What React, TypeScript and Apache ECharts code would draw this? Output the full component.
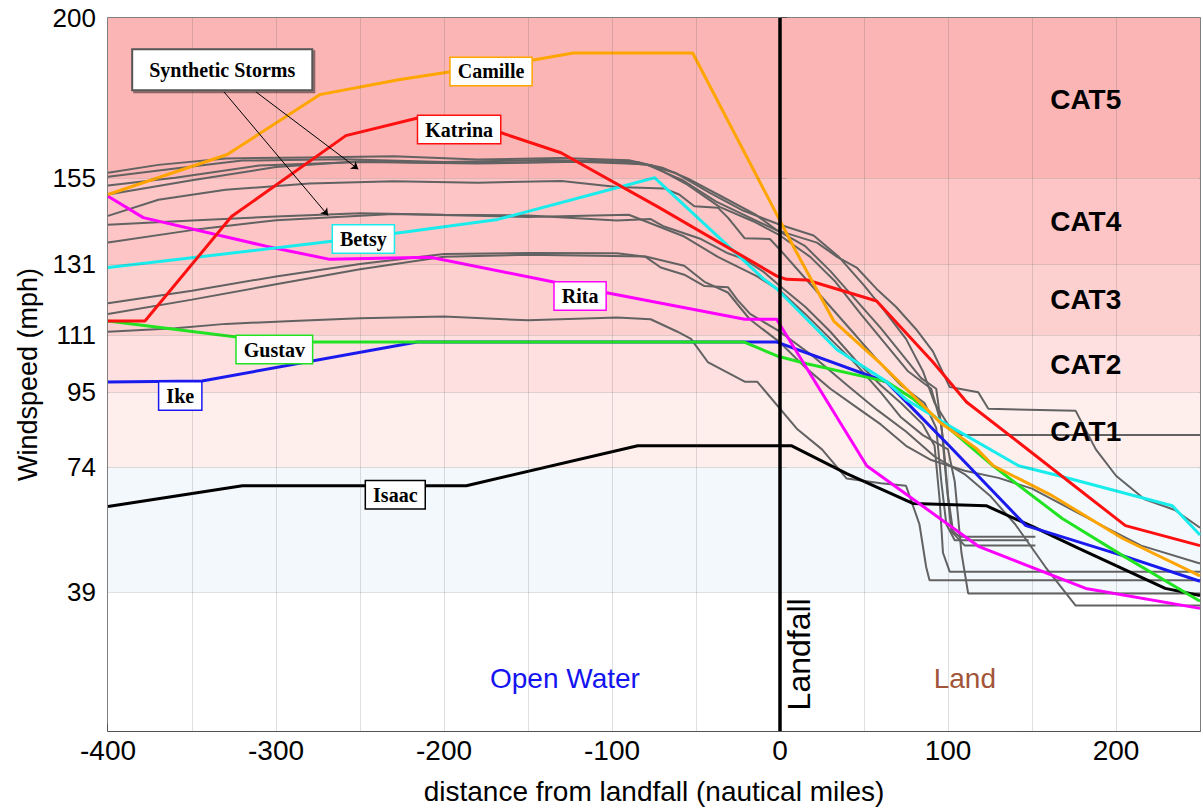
import React, { useEffect, useRef } from "react";
import * as echarts from "echarts";

// ---- axis ticks ----
const yTickValues = [39, 74, 95, 111, 131, 155, 200];
const xTickValues = [-400, -300, -200, -100, 0, 100, 200];
const xGridValues = [-350, -300, -250, -200, -150, -100, -50, 50, 100, 150, 200];

// ---- Saffir-Simpson bands ----
const bandLow = [0, 39, 74, 95, 111, 131, 155];
const bandHigh = [39, 74, 95, 111, 131, 155, 200];
const bandColors = ["#ffffff", "#f3f8fd", "#feeeec", "#fee0e0", "#fdd0d0", "#fdc5c5", "#fcb5b5"];
const catNames = ["CAT1", "CAT2", "CAT3", "CAT4", "CAT5"];
const catY = [84, 102.7, 121, 143, 177];

// ---- historical storms [distance, windspeed] ----
const camille = [[-400, 150.5], [-329, 161.7], [-274, 178.5], [-227, 182.7], [-196, 184.9], [-146, 188.3], [-123, 190.2], [-52, 190.2], [9, 135], [32, 115], [59, 103.5], [95, 86.7], [117, 79.2], [127, 74.4], [162, 66], [204, 54], [250, 43.5]];
const katrina = [[-400, 115], [-378, 115], [-326.5, 144.3], [-258.4, 167], [-215, 172], [-166, 167.8], [-130.4, 162.2], [-72.9, 147.1], [-1.8, 127.6], [4, 126.7], [16, 126.5], [57.5, 120.6], [91, 103.5], [111, 92.3], [144.6, 80], [205.6, 57.6], [250, 52]];
const betsy = [[-400, 130], [-273, 137], [-223, 140], [-168, 143.5], [-74.7, 155.2], [-9.5, 126.7], [-1.8, 124], [33.8, 107], [63.4, 98], [75, 93], [100.7, 85.6], [142, 74.4], [166, 71.6], [233.5, 63.2], [250, 55]];
const rita = [[-400, 150], [-379, 144], [-306, 136], [-268, 132.3], [-208, 132.9], [-134, 125.9], [-104, 123], [-21, 115.5], [-2, 115.5], [51.6, 74.4], [118.5, 51.7], [182, 40], [250, 34.4]];
const gustav = [[-400, 115], [-323.6, 110.5], [-278.5, 109.1], [-21.3, 109.1], [-1.8, 105.2], [16, 103], [63.4, 98], [79.4, 93.1], [100.7, 84.8], [126.8, 74.4], [168, 59.6], [204, 49.2], [250, 36.4]];
const ike = [[-400, 97.9], [-344, 98.2], [-216, 109.1], [-1.8, 109.1], [63.4, 97.9], [73.5, 93.1], [100.7, 80], [146.4, 57.6], [204, 49.2], [250, 42]];
const isaac = [[-400, 63], [-320, 68.8], [-186.7, 68.8], [-84.7, 80], [7, 80], [39.7, 72.2], [79.4, 63.8], [122.7, 63.2], [150.5, 57.3], [177.8, 51.2], [229.3, 40], [250, 38]];

// ---- synthetic storms ----
const syn1 = [[-400, 156.6], [-370, 158.8], [-330, 160.6], [-280, 160.9], [-230, 161.2], [-180, 160.3], [-130, 160.7], [-90, 160.1], [-70, 158], [-55, 155], [-35, 150], [-15, 145], [-2, 140.5], [22, 137], [34, 133], [45.6, 130], [57.5, 124], [69, 119], [81, 112.7], [91, 106.5], [101, 96.5], [118, 95], [124, 90.4], [176, 89.8], [188, 79], [200, 71.6], [217, 65], [235, 62], [250, 57]];
const syn2 = [[-400, 155.5], [-360, 157.8], [-320, 160], [-260, 160.4], [-200, 159.6], [-140, 160.2], [-85, 159.6], [-62, 156.5], [-42, 151], [-22, 146], [0, 142], [20, 139], [35, 133], [50, 125], [62, 118], [75, 110], [85, 101], [92, 92], [100, 86], [108, 83], [250, 83]];
const syn3 = [[-400, 153], [-360, 155.2], [-310, 158.6], [-250, 159.6], [-180, 159.2], [-120, 159.7], [-80, 159], [-58, 154.5], [-38, 148.5], [-18, 144], [0, 140], [15, 136], [30, 129], [45, 121], [60, 113], [72, 106], [84, 99], [93, 96], [97, 82], [100, 66], [103, 56], [107, 54.5], [152, 54.5]];
const syn4 = [[-400, 150.5], [-350, 154.5], [-300, 158.2], [-250, 159.8], [-200, 159.3], [-100, 159.8], [-76, 158.6], [-56, 153.5], [-36, 147], [-16, 143], [0, 139], [18, 133], [33, 126], [48, 117], [62, 109], [76, 101], [90, 96], [96, 86], [99, 70], [102, 56], [110, 52], [152, 52]];
const syn5 = [[-400, 144.5], [-370, 149], [-330, 151.8], [-280, 153.6], [-230, 154.2], [-180, 153.8], [-130, 154.3], [-97, 152.6], [-69, 152.2], [-60, 150.5], [-51, 147.2], [-37, 146.8], [-31, 144], [-21, 138.2], [-6, 138], [0, 135], [15, 127], [30, 119], [45, 111], [58, 104], [72, 97], [86, 92], [93, 85], [96, 70], [99, 58], [104, 53.5], [148, 53.5]];
const syn6 = [[-400, 142], [-350, 143.2], [-300, 144.3], [-250, 145.2], [-200, 144.8], [-150, 144.6], [-97, 143.2], [-77, 143.6], [-69, 141.5], [-47, 138], [-31, 134], [-21, 132.3], [-9.5, 128.7], [0, 124.8], [15, 119], [30, 112], [45, 104], [60, 97], [72, 92], [85, 86], [92, 80], [95, 65], [97, 50], [101, 44.7], [250, 44.7]];
const syn7 = [[-400, 137], [-350, 140.5], [-300, 143.3], [-230, 145], [-150, 144.2], [-90, 144.8], [-57, 138.7], [-37, 133], [-13.6, 127.5], [0, 123.5], [15, 117], [30, 110], [45, 103], [60, 95], [72, 88], [85, 83], [100, 79], [104, 70], [108, 50], [112, 38.6], [250, 38.6]];
const syn8 = [[-400, 120], [-350, 123.5], [-300, 127.5], [-250, 131], [-200, 133.8], [-150, 134.1], [-97, 134], [-80, 133], [-71, 130], [-57, 128], [-45, 124.8], [-31, 124.5], [-25.5, 121], [-17.8, 117], [0, 112], [20, 105], [40, 97], [58, 90], [75, 84], [92, 77], [110, 72], [125, 66], [140, 58], [158, 46], [176, 35.2], [250, 35.2]];
const syn9 = [[-400, 117], [-350, 121], [-300, 125.3], [-250, 129.5], [-200, 133], [-150, 133.6], [-80, 133.1], [-57, 130.5], [-45, 126], [-31, 123], [-18, 115.5], [0, 109], [15, 102], [30, 96], [45, 91], [60, 86], [75, 80], [90, 76], [110, 73], [130, 71], [150, 68], [170, 63], [190, 58], [215, 52], [250, 47]];
const syn10 = [[-400, 112], [-360, 113], [-330, 114.2], [-290, 115], [-250, 115.8], [-200, 116.3], [-150, 115.2], [-97, 116], [-77, 115.5], [-61, 112], [-53, 110], [-43, 103.5], [-21, 98], [-13.6, 98], [10, 84.8], [25, 79], [39.7, 70.8], [60, 69.5], [75, 68.8], [83, 58], [87, 46], [89, 42.3], [250, 42.3]];
const synthetic = [syn1, syn2, syn3, syn4, syn5, syn6, syn7, syn8, syn9, syn10];

// ---- storm name labels ----
const stormNames = ["Isaac", "Ike", "Gustav", "Rita", "Betsy", "Katrina", "Camille"];
const stormData = [isaac, ike, gustav, rita, betsy, katrina, camille];
const stormColors = ["#000000", "#1a1aee", "#22e322", "#ff00ff", "#19ecec", "#ff1010", "#ffa500"];
const stormLabelX = [-229, -357, -301, -119, -248, -191, -172];
const stormLabelY = [66.3, 94, 107, 122, 138, 168.7, 185];

const SANS = "'Liberation Sans', Arial, sans-serif";
const SERIF = "'Liberation Serif', 'Times New Roman', serif";

function buildOption() {
  const series: any[] = [];
  series.push({
    type: "line",
    data: [],
    z: 1,
    silent: true,
    markArea: {
      silent: true,
      data: bandLow.map((lo, i) => [
        { yAxis: lo, itemStyle: { color: bandColors[i] } },
        { yAxis: bandHigh[i] },
      ]),
    },
  });
  series.push({
    type: "line",
    data: [],
    z: 2,
    silent: true,
    markLine: {
      silent: true,
      symbol: ["none", "none"],
      label: { show: false },
      lineStyle: { color: "rgba(80,80,80,0.18)", width: 1, type: "solid" },
      data: [
        ...xGridValues.map((v) => ({ xAxis: v })),
        ...yTickValues.filter((v) => v < 200).map((v) => ({ yAxis: v })),
      ],
    },
  });
  synthetic.forEach((d) => {
    series.push({
      type: "line",
      data: d,
      showSymbol: false,
      silent: true,
      z: 3,
      lineStyle: { color: "#626262", width: 2 },
    });
  });
  stormData.forEach((d, i) => {
    series.push({
      type: "line",
      name: stormNames[i],
      data: d,
      showSymbol: false,
      silent: true,
      z: 4,
      lineStyle: { color: stormColors[i], width: 3 },
      markPoint: {
        silent: true,
        symbol: "circle",
        symbolSize: 1,
        itemStyle: { color: "rgba(0,0,0,0)" },
        data: [
          {
            coord: [stormLabelX[i], stormLabelY[i]],
            label: {
              show: true,
              position: "inside",
              formatter: stormNames[i],
              backgroundColor: "#ffffff",
              borderColor: stormColors[i],
              borderWidth: 1.5,
              padding: [4, 7, 3, 7],
              fontFamily: SERIF,
              fontWeight: "bold",
              fontSize: 20,
              color: "#000",
            },
          },
        ],
      },
    });
  });
  // landfall line, arrows, and text annotations
  series.push({
    type: "line",
    data: [],
    z: 5,
    silent: true,
    markLine: {
      silent: true,
      symbol: ["none", "none"],
      label: { show: false },
      data: [
        { xAxis: 0, lineStyle: { color: "#000", width: 3.5, type: "solid" } },
        [
          { coord: [-331, 179.3], symbol: "none" },
          { coord: [-269, 144.6], symbol: "arrow", symbolSize: 7 },
        ],
        [
          { coord: [-312, 179.3], symbol: "none" },
          { coord: [-251, 157.6], symbol: "arrow", symbolSize: 7 },
        ],
      ].map((d: any) =>
        Array.isArray(d)
          ? d.map((p: any) => ({ ...p, lineStyle: { color: "#000", width: 1, type: "solid" } }))
          : d
      ),
    },
    markPoint: {
      silent: true,
      symbol: "circle",
      symbolSize: 1,
      itemStyle: { color: "rgba(0,0,0,0)" },
      data: [
        {
          coord: [-332, 185.5],
          label: {
            show: true,
            position: "inside",
            formatter: "Synthetic Storms",
            backgroundColor: "#fff",
            borderColor: "#555",
            borderWidth: 2,
            shadowColor: "rgba(0,0,0,0.45)",
            shadowOffsetX: 2,
            shadowOffsetY: 2,
            padding: [10, 16, 9, 16],
            fontFamily: SERIF,
            fontWeight: "bold",
            fontSize: 20,
            color: "#000",
          },
        },
        ...catNames.map((c, i) => ({
          coord: [182, catY[i]],
          label: {
            show: true,
            position: "inside",
            formatter: c,
            fontFamily: SANS,
            fontWeight: "bold",
            fontSize: 28,
            color: "#000",
          },
        })),
        {
          coord: [-128, 14.8],
          label: { show: true, position: "inside", formatter: "Open Water", fontFamily: SANS, fontSize: 28, color: "#1414f0" },
        },
        {
          coord: [110, 14.8],
          label: { show: true, position: "inside", formatter: "Land", fontFamily: SANS, fontSize: 28, color: "#a3553a" },
        },
        {
          coord: [11.5, 21.5],
          label: { show: true, position: "inside", rotate: 90, formatter: "Landfall", fontFamily: SANS, fontSize: 32, color: "#000" },
        },
      ],
    },
  });

  return {
    animation: false,
    backgroundColor: "#ffffff",
    grid: {
      left: 108,
      width: 1099,
      top: 18,
      bottom: 77,
      show: true,
      borderColor: "#555",
      borderWidth: 1.5,
      backgroundColor: "transparent",
    },
    xAxis: {
      type: "value",
      min: -400,
      max: 250,
      interval: 50,
      name: "distance from landfall (nautical miles)",
      nameLocation: "middle",
      nameGap: 46,
      nameTextStyle: { fontFamily: SANS, fontSize: 28, color: "#000" },
      axisLine: { show: true, onZero: false, lineStyle: { color: "#444", width: 1.5 } },
      axisTick: { show: true, inside: true, length: 7, customValues: xTickValues, lineStyle: { color: "#444", width: 1.5 } },
      axisLabel: {
        fontFamily: SANS,
        fontSize: 28,
        color: "#000",
        margin: 5,
        formatter: (v: number) => (v % 100 === 0 && v <= 200 ? String(v) : ""),
      },
      splitLine: { show: false },
    },
    yAxis: {
      type: "value",
      min: 0,
      max: 200,
      name: "Windspeed (mph)",
      nameLocation: "middle",
      nameGap: 64,
      nameTextStyle: { fontFamily: SANS, fontSize: 27, color: "#000" },
      axisLine: { show: true, lineStyle: { color: "#444", width: 1.5 } },
      axisTick: { show: true, inside: true, length: 7, customValues: yTickValues, lineStyle: { color: "#444", width: 1.5 } },
      axisLabel: { fontFamily: SANS, fontSize: 26, color: "#000", margin: 12, customValues: yTickValues },
      splitLine: { show: false },
    },
    series,
  };
}

export default function App() {
  const ref = useRef<HTMLDivElement>(null);
  useEffect(() => {
    document.body.style.margin = "0";
    document.body.style.overflow = "hidden";
    const chart = echarts.init(ref.current!, null, { renderer: "svg" });
    chart.setOption(buildOption() as any);
    return () => chart.dispose();
  }, []);
  return <div ref={ref} style={{ width: 1203, height: 810 }} />;
}
